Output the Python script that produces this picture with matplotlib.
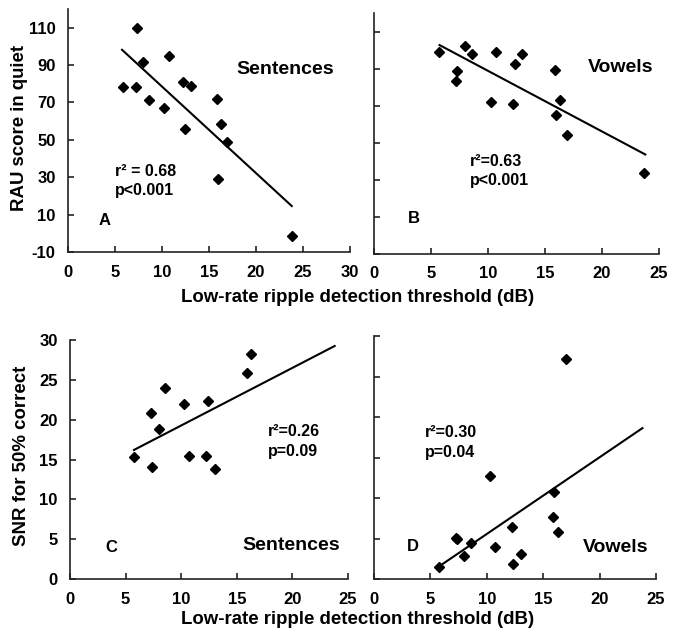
import numpy as np
import matplotlib
matplotlib.use('Agg')
import matplotlib.pyplot as plt

plt.rcParams['font.family'] = ['Liberation Sans', 'DejaVu Sans']
plt.rcParams['font.weight'] = 'bold'
plt.rcParams['axes.unicode_minus'] = False

#Threshold (dB) and scores, one array per panel
xA = [5.8, 7.2, 7.3, 8.0, 8.6, 10.25, 10.7, 12.2, 12.4, 13.1, 15.9, 16.0, 16.3, 16.95, 23.8]
yA = [78.2, 78.2, 110, 91.8, 71.4, 67.3, 94.8, 81.2, 55.9, 78.7, 72.0, 28.9, 58.7, 48.9, -1.4]

xB = [5.7, 7.2, 7.3, 8.0, 8.6, 10.25, 10.7, 12.2, 12.35, 13.0, 15.9, 16.0, 16.3, 16.95, 23.7]
yB = [99.0, 83.4, 88.6, 102.0, 97.9, 71.9, 99.0, 71.0, 92.7, 97.9, 89.1, 65.0, 72.9, 54.3, 33.6]

xC = [5.8, 7.25, 7.4, 8.0, 8.55, 10.25, 10.7, 12.25, 12.4, 13.05, 15.9, 16.3]
yC = [15.3, 20.8, 14.1, 18.8, 24.0, 22.0, 15.5, 15.5, 22.4, 13.8, 25.9, 28.2]

xD = [5.8, 7.3, 7.4, 8.0, 8.6, 10.3, 10.7, 12.25, 12.35, 13.05, 15.9, 16.0, 16.35, 17.0]
yD = [1.5, 5.1, 5.0, 2.9, 4.4, 12.7, 3.9, 6.4, 1.8, 3.1, 7.7, 10.7, 5.8, 27.2]

#Regression lines (slope, intercept) as drawn, over the full threshold range
fit_range = [5.75, 23.8]
fitA = (-4.63, 124.8)
fitB = (-3.27, 121.5)
fitC = (0.723, 12.04)
fitD = (0.947, -3.91)

statsA = 'r² = 0.68\np<0.001'
statsB = 'r²=0.63\np<0.001'
statsC = 'r²=0.26\np=0.09'
statsD = 'r²=0.30\np=0.04'

W, H = 678, 638
fig = plt.figure(figsize=(W/100, H/100), dpi=100)

def box(l, t, r, b):
    #pixel box -> figure fraction
    return [l/W, 1-b/H, (r-l)/W, (b-t)/H]

axA = fig.add_axes(box(68, 9, 350, 252))
axB = fig.add_axes(box(374, 13, 659, 254))
axC = fig.add_axes(box(70, 340, 348, 579))
axD = fig.add_axes(box(374, 336, 656, 579))

def panel(ax, x, y, fit, xlim, xticks, ylim, yticks, show_y):
    ax.plot(x, y, 'kD', ms=5, mec='k')
    fx = np.array(fit_range)
    ax.plot(fx, fit[0]*fx + fit[1], 'k-', lw=1.5)
    ax.set_xlim(xlim)
    ax.set_ylim(ylim)
    ax.set_xticks(xticks)
    ax.set_yticks(yticks)
    if not show_y:
        ax.set_yticklabels([])
    for s in ['top', 'right']:
        ax.spines[s].set_visible(False)
    for s in ['left', 'bottom']:
        ax.spines[s].set_linewidth(1.2)
        ax.spines[s].set_color('#222222')
    ax.tick_params(direction='in', length=4, width=1.2, labelsize=12, pad=9, colors='#222222')
    for lab in ax.get_xticklabels() + ax.get_yticklabels():
        lab.set_fontweight('bold')
        lab.set_color('black')

panel(axA, xA, yA, fitA, (0, 30), range(0, 31, 5), (-10, 120), range(-10, 111, 20), True)
panel(axB, xB, yB, fitB, (0, 25), range(0, 26, 5), (-10, 120), range(-10, 111, 20), False)
panel(axC, xC, yC, fitC, (0, 25), range(0, 26, 5), (0, 30), range(0, 31, 5), True)
panel(axD, xD, yD, fitD, (0, 25), range(0, 26, 5), (0, 30), range(0, 31, 5), False)

big = dict(fontsize=14, fontweight='bold', va='center', ha='left')
mid = dict(fontsize=11.5, fontweight='bold', va='center', ha='left', linespacing=1.35)
let = dict(fontsize=12, fontweight='bold', va='center', ha='left')

axA.text(17.9, 87.5, 'Sentences', **big)
axA.text(5.0, 28.0, statsA, **mid)
axA.text(3.2, 6.8, 'A', **let)

axB.text(18.8, 90.4, 'Vowels', **big)
axB.text(8.4, 34.8, statsB, **mid)
axB.text(3.0, 8.9, 'B', **let)

axC.text(15.5, 4.2, 'Sentences', **big)
axC.text(17.8, 17.25, statsC, **mid)
axC.text(3.2, 4.0, 'C', **let)

axD.text(18.5, 3.9, 'Vowels', **big)
axD.text(4.5, 16.85, statsD, **mid)
axD.text(2.9, 4.0, 'D', **let)

lab = dict(fontsize=13.4, fontweight='bold', ha='center', va='center')
fig.text(358/W, 1-298/H, 'Low-rate ripple detection threshold (dB)', **lab)
fig.text(358/W, 1-620/H, 'Low-rate ripple detection threshold (dB)', **lab)
fig.text(20/W, 1-128/H, 'RAU score in quiet', rotation=90, **lab)
fig.text(22/W, 1-456/H, 'SNR for 50% correct', rotation=90, **lab)

fig.savefig('out.png', dpi=100, facecolor='white')
